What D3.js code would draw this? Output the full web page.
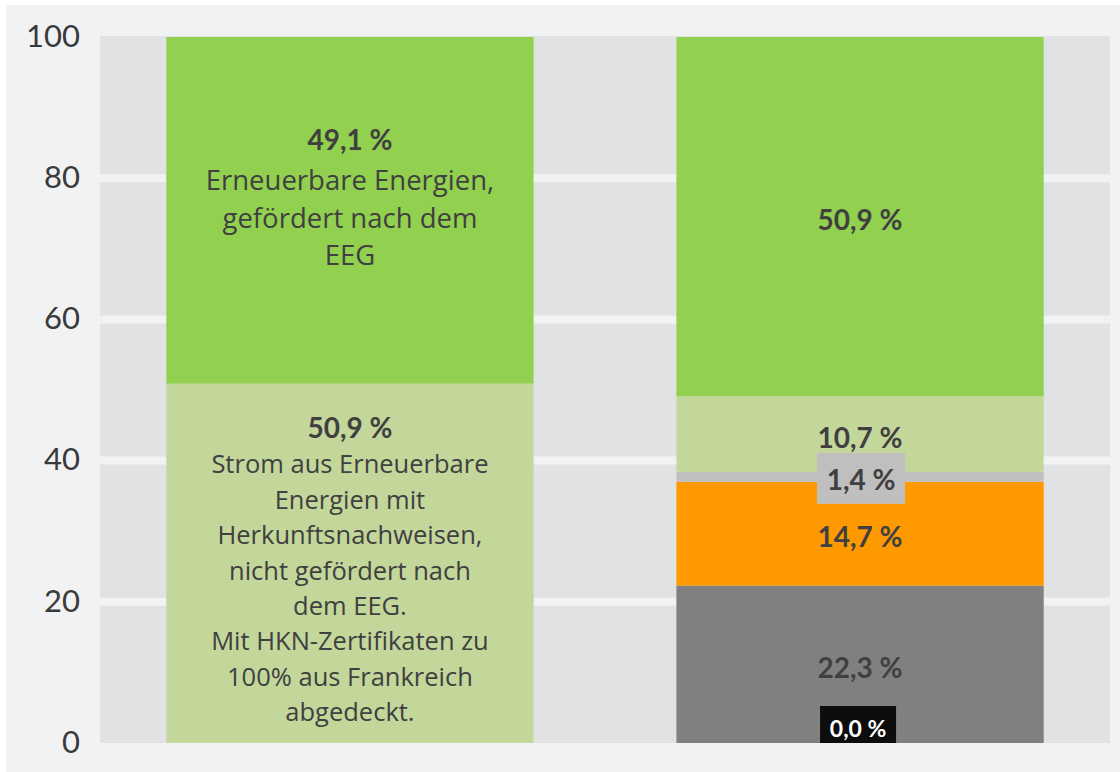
<!DOCTYPE html>
<html>
<head>
<meta charset="utf-8">
<script src="https://cdn.jsdelivr.net/npm/d3@7"></script>
<style>
  html, body { margin: 0; padding: 0; background: #ffffff; }
  svg { display: block; }
</style>
</head>
<body>
<svg id="chart" width="1120" height="772"></svg>
<script>
// ---------- data ----------
const categories = ["Produkt", "Bundesmix"];
const seriesNames = ["Kernkraft", "Kohle", "Erdgas", "Sonstige fossile", "EE mit HKN", "EE gefördert nach EEG"];
const kernkraft       = [0.0, 0.0];
const kohle           = [0.0, 22.3];
const erdgas          = [0.0, 14.7];
const sonstigeFossile = [0.0, 1.4];
const eeHKN           = [50.9, 10.7];
const eeEEG           = [49.1, 50.9];
const seriesColors = ["#0d0d0d", "#808080", "#ff9900", "#bfbfbf", "#c4d79b", "#92d050"];
const yTicks = [0, 20, 40, 60, 80, 100];
const leftDescriptions = {
  "EE gefördert nach EEG": ["Erneuerbare Energien,", "gefördert nach dem", "EEG"],
  "EE mit HKN": ["Strom aus Erneuerbare", "Energien mit", "Herkunftsnachweisen,", "nicht gefördert nach", "dem EEG.", "Mit HKN-Zertifikaten zu", "100% aus Frankreich", "abgedeckt."]
};

const seriesValues = [kernkraft, kohle, erdgas, sonstigeFossile, eeHKN, eeEEG];
const rows = categories.map((c, i) => {
  const r = { category: c };
  seriesNames.forEach((s, k) => r[s] = seriesValues[k][i]);
  return r;
});

// ---------- layout ----------
const svg = d3.select("#chart");
const W = 1120, H = 772;
const plot = { left: 100, right: 1110, top: 37, bottom: 743 };
const textColor = "#404040";
const boldFont = "Lato, 'Noto Sans', sans-serif";
const bodyFont = "'Open Sans', 'Noto Sans', sans-serif";

svg.append("rect").attr("width", W).attr("height", H).attr("fill", "#ffffff");
svg.append("rect").attr("x", 6).attr("y", 5).attr("width", W - 6).attr("height", H - 5).attr("fill", "#f1f2f4");

const x = d3.scaleBand().domain(categories).range([plot.left, plot.right])
  .paddingInner(0.28).paddingOuter(0.13);
const y = d3.scaleLinear().domain([0, 100]).range([plot.bottom, plot.top]);

// plot cells
svg.append("rect").attr("x", plot.left).attr("y", plot.top - 1)
  .attr("width", plot.right - plot.left).attr("height", plot.bottom - plot.top + 1)
  .attr("fill", "#e1e2e4");
svg.append("g").selectAll("line").data(yTicks.filter(t => t > 0 && t < 100)).join("line")
  .attr("x1", plot.left).attr("x2", plot.right)
  .attr("y1", d => y(d)).attr("y2", d => y(d))
  .attr("stroke", "#f1f2f4").attr("stroke-width", 8);

// axis
const axis = svg.append("g").attr("transform", `translate(${plot.left},0)`)
  .call(d3.axisLeft(y).tickValues(yTicks).tickSize(0).tickPadding(20));
axis.select(".domain").remove();
axis.selectAll("text").style("font-family", boldFont).style("font-size", "31px")
  .attr("fill", "#3a3a3a").attr("dy", "0.3em");

// stacks
const stack = d3.stack().keys(seriesNames);
const stacked = stack(rows);
const gBars = svg.append("g");
stacked.forEach((layer, k) => {
  gBars.selectAll(null).data(layer).join("rect")
    .attr("x", d => x(d.data.category))
    .attr("width", x.bandwidth())
    .attr("y", d => y(d[1]))
    .attr("height", d => y(d[0]) - y(d[1]))
    .attr("fill", seriesColors[k]);
});

// labels
const fmt = v => d3.format(".1f")(v).replace(".", ",") + " %";
const gLab = svg.append("g").attr("text-anchor", "middle").style("font-family", boldFont);
const clipId = "plotclip";
svg.append("clipPath").attr("id", clipId).append("rect")
  .attr("x", plot.left).attr("y", plot.top).attr("width", plot.right - plot.left).attr("height", plot.bottom - plot.top);

stacked.forEach((layer, k) => {
  const name = seriesNames[k];
  layer.forEach((d, i) => {
    const v = d.data[name];
    const cx = x(d.data.category) + x.bandwidth() / 2;
    const mid = (y(d[0]) + y(d[1])) / 2;
    const desc = i === 0 ? leftDescriptions[name] : null;
    if (i === 0 && v === 0) return;
    if (desc) {
      const isTop = name === "EE gefördert nach EEG";
      const firstGap = isTop ? 40 : 36.7;
      const lh = isTop ? 37.5 : 35.4;
      const fs = isTop ? 27.5 : 25.5;
      const blockH = firstGap + lh * (desc.length - 1);
      const shift = isTop ? -12.5 : 6.5;
      const top = mid + shift - blockH / 2;
      gLab.append("text").attr("x", cx).attr("y", top + 10)
        .style("font-size", "28px").attr("font-weight", 700).attr("fill", textColor).text(fmt(v));
      desc.forEach((line, j) => {
        gLab.append("text").attr("x", cx).attr("y", top + firstGap + lh * j + fs * 0.36)
          .style("font-family", bodyFont)
          .style("font-size", fs + "px").attr("fill", textColor).text(line);
      });
    } else if (name === "Kernkraft") {
      const g = gLab.append("g").attr("clip-path", `url(#${clipId})`);
      const cy = y(d[1]) - 15;
      g.append("rect").attr("x", cx - 40).attr("y", cy - 22).attr("width", 76).attr("height", 44).attr("fill", "#0d0d0d");
      g.append("text").attr("x", cx - 2).attr("y", cy + 8.5).style("font-size", "23px").attr("font-weight", 700)
        .attr("fill", "#ffffff").text(fmt(v));
    } else if (name === "Sonstige fossile") {
      const cy = mid + 3;
      gLab.append("rect").attr("x", cx - 43).attr("y", cy - 27).attr("width", 88).attr("height", 51).attr("fill", seriesColors[k]);
      gLab.append("text").attr("x", cx + 1).attr("y", cy + 10.5).style("font-size", "28px").attr("font-weight", 700)
        .attr("fill", textColor).text(fmt(v));
    } else {
      gLab.append("text").attr("x", cx).attr("y", mid + 3 + 10.5).style("font-size", "28px").attr("font-weight", 700)
        .attr("fill", textColor).text(fmt(v));
    }
  });
});
</script>
</body>
</html>
